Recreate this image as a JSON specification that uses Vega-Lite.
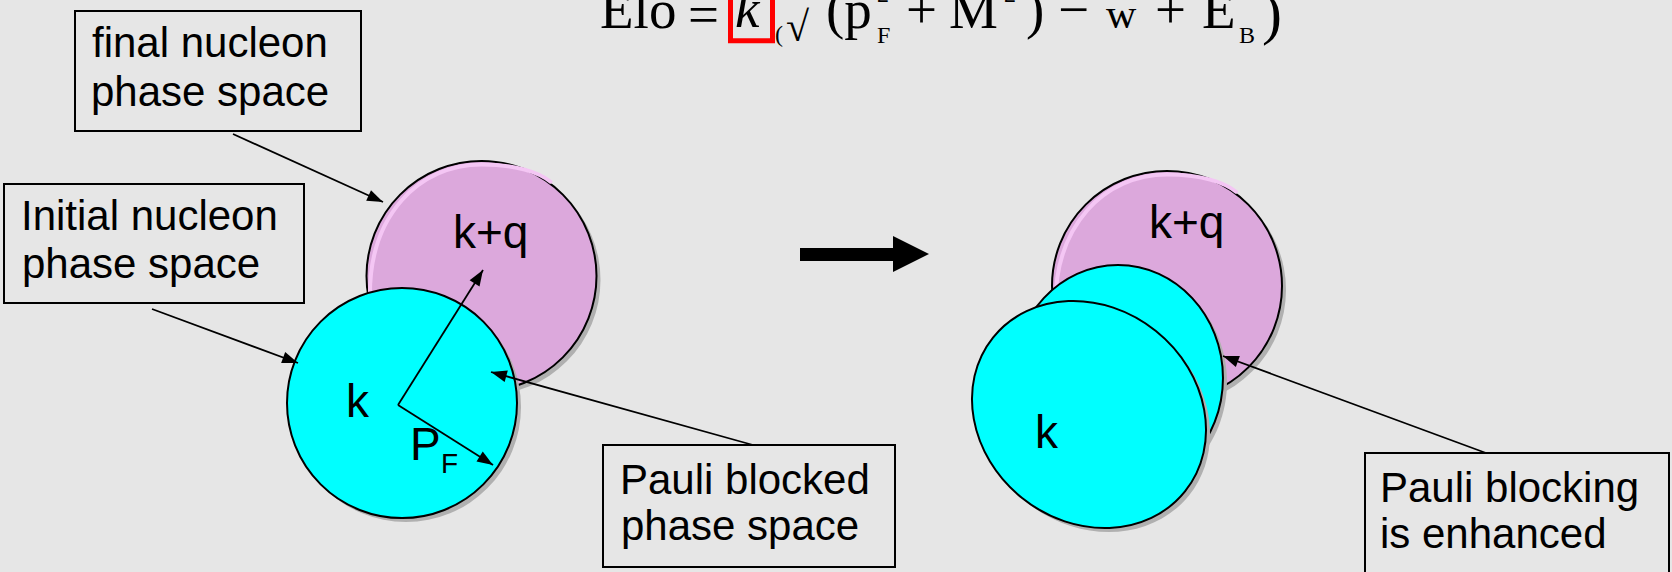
{
  "$schema": "https://vega.github.io/schema/vega-lite/v6.json",
  "width": 1672,
  "height": 572,
  "autosize": {"type": "none"},
  "padding": 0,
  "background": "#e6e6e6",
  "config": {"view": {"stroke": null}},
  "datasets": {
    "discs": [
      {"name": "final-left", "kind": "final", "x": 481.5, "y": 276, "r": 115},
      {"name": "initial-left", "kind": "initial", "x": 402, "y": 403, "r": 115},
      {"name": "final-right", "kind": "final", "x": 1167, "y": 286, "r": 115},
      {"name": "initial-right-back", "kind": "initial", "x": 1118, "y": 378, "r": 113},
      {"name": "initial-right-front", "kind": "initial", "x": 1089, "y": 414.5, "r": 107}
    ],
    "arrows": [
      {"x": 233, "y": 134, "x2": 383, "y2": 202, "deg": 114.4},
      {"x": 152, "y": 309, "x2": 298, "y2": 363, "deg": 110.3},
      {"x": 398, "y": 405, "x2": 483, "y2": 270, "deg": 32.2},
      {"x": 398, "y": 405, "x2": 493, "y2": 465, "deg": 122.3},
      {"x": 753, "y": 445, "x2": 491, "y2": 372, "deg": 285.6},
      {"x": 1486, "y": 453, "x2": 1223, "y2": 356, "deg": 290.2}
    ],
    "shaft": [{"x": 800, "x2": 895, "y": 248, "y2": 261}],
    "head": [{"x": 929, "y": 254}],
    "boxes": [
      {"x": 75, "x2": 361, "y": 11, "y2": 131},
      {"x": 4, "x2": 304, "y": 184, "y2": 303},
      {"x": 603, "x2": 895, "y": 445, "y2": 567},
      {"x": 1365, "x2": 1669, "y": 453, "y2": 640}
    ],
    "highlight": [{"x": 730.5, "x2": 772.5, "y": -20, "y2": 40.7}],
    "labels": [
      {"t": "final nucleon", "x": 92, "y": 57, "role": "label"},
      {"t": "phase space", "x": 91, "y": 106, "role": "label"},
      {"t": "Initial nucleon", "x": 21, "y": 230, "role": "label"},
      {"t": "phase space", "x": 22, "y": 278, "role": "label"},
      {"t": "Pauli blocked", "x": 620, "y": 494, "role": "label"},
      {"t": "phase space", "x": 621, "y": 540, "role": "label"},
      {"t": "Pauli blocking", "x": 1380, "y": 502, "role": "label"},
      {"t": "is enhanced", "x": 1380, "y": 548, "role": "label"},
      {"t": "k+q", "x": 453, "y": 248, "role": "symbol"},
      {"t": "k", "x": 346, "y": 417, "role": "symbol"},
      {"t": "P", "x": 410, "y": 460, "role": "symbol"},
      {"t": "F", "x": 441, "y": 473, "role": "index"},
      {"t": "k+q", "x": 1149, "y": 238, "role": "symbol"},
      {"t": "k", "x": 1035, "y": 448, "role": "symbol"}
    ],
    "equation": [
      {"t": "Elo", "x": 600, "y": 28, "role": "main"},
      {"t": "=", "x": 688, "y": 33, "role": "main"},
      {"t": "k", "x": 735, "y": 27, "role": "italic"},
      {"t": "(", "x": 775, "y": 42, "role": "sub"},
      {"t": "√", "x": 786, "y": 41, "role": "mid"},
      {"t": "(p", "x": 826, "y": 28, "role": "main"},
      {"t": "F", "x": 877, "y": 43, "role": "sub"},
      {"t": "2", "x": 877, "y": 2, "role": "sub"},
      {"t": "+", "x": 906, "y": 28, "role": "main"},
      {"t": "M", "x": 949, "y": 28, "role": "main"},
      {"t": "2", "x": 1004, "y": 2, "role": "sub"},
      {"t": ")", "x": 1026, "y": 28, "role": "main"},
      {"t": "−", "x": 1058, "y": 28, "role": "main"},
      {"t": "w", "x": 1106, "y": 28, "role": "mid"},
      {"t": "+", "x": 1155, "y": 28, "role": "main"},
      {"t": "E", "x": 1202, "y": 28, "role": "main"},
      {"t": "B", "x": 1239, "y": 43, "role": "sub"},
      {"t": ")", "x": 1262, "y": 33, "role": "tall"}
    ]
  },
  "encoding": {
    "x": {"field": "x", "type": "quantitative", "scale": {"domain": [0, 1672], "nice": false, "zero": false}, "axis": null},
    "y": {"field": "y", "type": "quantitative", "scale": {"domain": [0, 572], "nice": false, "zero": false, "reverse": true}, "axis": null}
  },
  "layer": [
    {
      "data": {"name": "discs"},
      "transform": [{"filter": "datum.name === 'final-left'"}],
      "encoding": {"size": {"field": "r", "type": "quantitative", "scale": {"type": "pow", "exponent": 2, "domain": [0, 200], "range": [0, 160000]}, "legend": null}},
      "layer": [
        {"mark": {"type": "point", "shape": "circle", "filled": true, "color": "#b0b0b0", "fill": "#b0b0b0", "strokeWidth": 0, "opacity": 1, "xOffset": 4, "yOffset": 4}},
        {"mark": {"type": "point", "shape": "circle", "filled": true, "stroke": "#000000", "strokeWidth": 2, "opacity": 1},
         "encoding": {"fill": {"field": "kind", "type": "nominal", "scale": {"domain": ["final", "initial"], "range": ["#dca8dc", "#00ffff"]}, "legend": null}}},
        {"mark": {"type": "point", "shape": "M-0.97,0.2C-0.985,-0.53 -0.54,-0.97 0,-0.97C0.3,-0.97 0.5,-0.9 0.6,-0.82", "filled": false, "stroke": "#f4c6f4", "strokeWidth": 4, "strokeCap": "round", "opacity": 1}}
      ]
    },
    {
      "data": {"name": "discs"},
      "transform": [{"filter": "datum.name === 'initial-left'"}],
      "encoding": {"size": {"field": "r", "type": "quantitative", "scale": {"type": "pow", "exponent": 2, "domain": [0, 200], "range": [0, 160000]}, "legend": null}},
      "layer": [
        {"mark": {"type": "point", "shape": "circle", "filled": true, "color": "#b0b0b0", "fill": "#b0b0b0", "strokeWidth": 0, "opacity": 1, "xOffset": 4, "yOffset": 4}},
        {"mark": {"type": "point", "shape": "circle", "filled": true, "stroke": "#000000", "strokeWidth": 2, "opacity": 1},
         "encoding": {"fill": {"field": "kind", "type": "nominal", "scale": {"domain": ["final", "initial"], "range": ["#dca8dc", "#00ffff"]}, "legend": null}}}
      ]
    },
    {
      "data": {"name": "discs"},
      "transform": [{"filter": "datum.name === 'final-right'"}],
      "encoding": {"size": {"field": "r", "type": "quantitative", "scale": {"type": "pow", "exponent": 2, "domain": [0, 200], "range": [0, 160000]}, "legend": null}},
      "layer": [
        {"mark": {"type": "point", "shape": "circle", "filled": true, "color": "#b0b0b0", "fill": "#b0b0b0", "strokeWidth": 0, "opacity": 1, "xOffset": 4, "yOffset": 4}},
        {"mark": {"type": "point", "shape": "circle", "filled": true, "stroke": "#000000", "strokeWidth": 2, "opacity": 1},
         "encoding": {"fill": {"field": "kind", "type": "nominal", "scale": {"domain": ["final", "initial"], "range": ["#dca8dc", "#00ffff"]}, "legend": null}}},
        {"mark": {"type": "point", "shape": "M-0.97,0.2C-0.985,-0.53 -0.54,-0.97 0,-0.97C0.3,-0.97 0.5,-0.9 0.6,-0.82", "filled": false, "stroke": "#f4c6f4", "strokeWidth": 4, "strokeCap": "round", "opacity": 1}}
      ]
    },
    {
      "data": {"name": "discs"},
      "transform": [{"filter": "datum.name === 'initial-right-back'"}],
      "encoding": {"size": {"field": "r", "type": "quantitative", "scale": {"type": "pow", "exponent": 2, "domain": [0, 200], "range": [0, 160000]}, "legend": null}},
      "layer": [
        {"mark": {"type": "point", "shape": "M0.929,0C0.929,0.5523 0.5131,1 0,1C-0.5131,1 -0.929,0.5523 -0.929,0C-0.929,-0.5523 -0.5131,-1 0,-1C0.5131,-1 0.929,-0.5523 0.929,0Z", "filled": true, "color": "#b0b0b0", "fill": "#b0b0b0", "strokeWidth": 0, "opacity": 1, "xOffset": 4, "yOffset": 4}},
        {"mark": {"type": "point", "shape": "M0.929,0C0.929,0.5523 0.5131,1 0,1C-0.5131,1 -0.929,0.5523 -0.929,0C-0.929,-0.5523 -0.5131,-1 0,-1C0.5131,-1 0.929,-0.5523 0.929,0Z", "filled": true, "stroke": "#000000", "strokeWidth": 2, "opacity": 1},
         "encoding": {"fill": {"field": "kind", "type": "nominal", "scale": {"domain": ["final", "initial"], "range": ["#dca8dc", "#00ffff"]}, "legend": null}}}
      ]
    },
    {
      "data": {"name": "discs"},
      "transform": [{"filter": "datum.name === 'initial-right-front'"}],
      "encoding": {"size": {"field": "r", "type": "quantitative", "scale": {"type": "pow", "exponent": 2, "domain": [0, 200], "range": [0, 160000]}, "legend": null}},
      "layer": [
        {"mark": {"type": "point", "shape": "M1.1495,0C1.1495,0.5523 0.6349,1 0,1C-0.6349,1 -1.1495,0.5523 -1.1495,0C-1.1495,-0.5523 -0.6349,-1 0,-1C0.6349,-1 1.1495,-0.5523 1.1495,0Z", "angle": 38.7, "filled": true, "color": "#b0b0b0", "fill": "#b0b0b0", "strokeWidth": 0, "opacity": 1, "xOffset": 4, "yOffset": 4}},
        {"mark": {"type": "point", "shape": "M1.1495,0C1.1495,0.5523 0.6349,1 0,1C-0.6349,1 -1.1495,0.5523 -1.1495,0C-1.1495,-0.5523 -0.6349,-1 0,-1C0.6349,-1 1.1495,-0.5523 1.1495,0Z", "angle": 38.7, "filled": true, "stroke": "#000000", "strokeWidth": 2, "opacity": 1},
         "encoding": {"fill": {"field": "kind", "type": "nominal", "scale": {"domain": ["final", "initial"], "range": ["#dca8dc", "#00ffff"]}, "legend": null}}}
      ]
    },
    {
      "data": {"name": "arrows"},
      "mark": {"type": "rule", "color": "#000000", "strokeWidth": 1.8},
      "encoding": {"x2": {"field": "x2"}, "y2": {"field": "y2"}}
    },
    {
      "data": {"name": "arrows"},
      "mark": {"type": "point", "shape": "M0,0L-0.37,1L0.37,1Z", "filled": true, "color": "#000000", "opacity": 1, "size": 1000, "strokeWidth": 0},
      "encoding": {
        "x": {"field": "x2", "type": "quantitative", "scale": {"domain": [0, 1672], "nice": false, "zero": false}, "axis": null},
        "y": {"field": "y2", "type": "quantitative", "scale": {"domain": [0, 572], "nice": false, "zero": false, "reverse": true}, "axis": null},
        "angle": {"field": "deg", "type": "quantitative", "scale": null}
      }
    },
    {
      "data": {"name": "shaft"},
      "mark": {"type": "rect", "color": "#000000"},
      "encoding": {"x2": {"field": "x2"}, "y2": {"field": "y2"}}
    },
    {
      "data": {"name": "head"},
      "mark": {"type": "point", "shape": "M0,0L-1,-0.5L-1,0.5Z", "filled": true, "color": "#000000", "opacity": 1, "size": 5184, "strokeWidth": 0}
    },
    {
      "data": {"name": "boxes"},
      "mark": {"type": "rect", "filled": false, "stroke": "#000000", "strokeWidth": 2},
      "encoding": {"x2": {"field": "x2"}, "y2": {"field": "y2"}}
    },
    {
      "data": {"name": "highlight"},
      "mark": {"type": "rect", "filled": false, "stroke": "#ff0000", "strokeWidth": 5},
      "encoding": {"x2": {"field": "x2"}, "y2": {"field": "y2"}}
    },
    {
      "data": {"name": "labels"},
      "transform": [{"filter": "datum.role === 'label'"}],
      "mark": {"type": "text", "align": "left", "baseline": "alphabetic", "font": "Liberation Sans", "fontSize": 42, "color": "#000000"},
      "encoding": {"text": {"field": "t"}}
    },
    {
      "data": {"name": "labels"},
      "transform": [{"filter": "datum.role === 'symbol'"}],
      "mark": {"type": "text", "align": "left", "baseline": "alphabetic", "font": "Liberation Sans", "fontSize": 46, "color": "#000000"},
      "encoding": {"text": {"field": "t"}}
    },
    {
      "data": {"name": "labels"},
      "transform": [{"filter": "datum.role === 'index'"}],
      "mark": {"type": "text", "align": "left", "baseline": "alphabetic", "font": "Liberation Sans", "fontSize": 28, "color": "#000000"},
      "encoding": {"text": {"field": "t"}}
    },
    {
      "data": {"name": "equation"},
      "transform": [{"filter": "datum.role === 'main'"}],
      "mark": {"type": "text", "align": "left", "baseline": "alphabetic", "font": "Liberation Serif", "fontSize": 55, "color": "#000000"},
      "encoding": {"text": {"field": "t"}}
    },
    {
      "data": {"name": "equation"},
      "transform": [{"filter": "datum.role === 'italic'"}],
      "mark": {"type": "text", "align": "left", "baseline": "alphabetic", "font": "Liberation Serif", "fontStyle": "italic", "fontSize": 55, "color": "#000000"},
      "encoding": {"text": {"field": "t"}}
    },
    {
      "data": {"name": "equation"},
      "transform": [{"filter": "datum.role === 'mid'"}],
      "mark": {"type": "text", "align": "left", "baseline": "alphabetic", "font": "Liberation Serif", "fontSize": 42, "color": "#000000"},
      "encoding": {"text": {"field": "t"}}
    },
    {
      "data": {"name": "equation"},
      "transform": [{"filter": "datum.role === 'sub'"}],
      "mark": {"type": "text", "align": "left", "baseline": "alphabetic", "font": "Liberation Serif", "fontSize": 24, "color": "#000000"},
      "encoding": {"text": {"field": "t"}}
    },
    {
      "data": {"name": "equation"},
      "transform": [{"filter": "datum.role === 'tall'"}],
      "mark": {"type": "text", "align": "left", "baseline": "alphabetic", "font": "Liberation Serif", "fontSize": 60, "color": "#000000"},
      "encoding": {"text": {"field": "t"}}
    }
  ]
}
